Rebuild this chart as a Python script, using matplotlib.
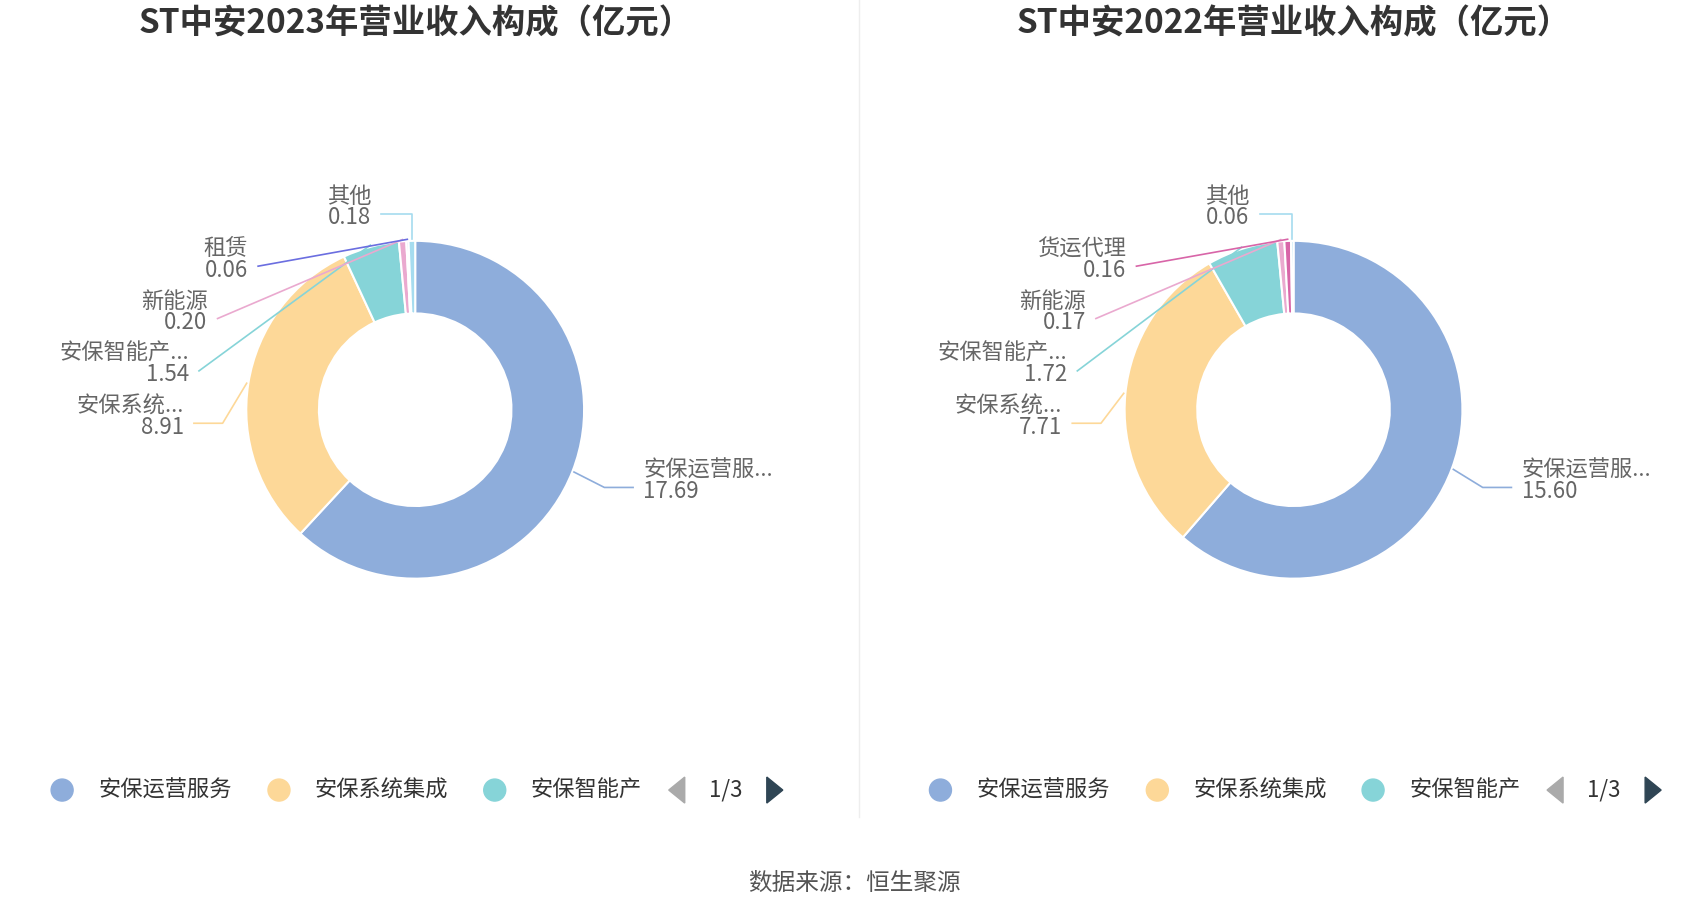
import matplotlib
matplotlib.use("Agg")
import matplotlib.pyplot as plt
import numpy as np
from matplotlib.patches import Polygon, Ellipse
from matplotlib.lines import Line2D

plt.rcParams['font.family'] = ['Noto Sans CJK SC', 'DejaVu Sans']

titles = ["ST中安2023年营业收入构成（亿元）", "ST中安2022年营业收入构成（亿元）"]
cats_2023 = ["安保运营服务", "安保系统集成", "安保智能产品", "新能源", "租赁", "其他"]
vals_2023 = [17.69, 8.91, 1.54, 0.20, 0.06, 0.18]
cats_2022 = ["安保运营服务", "安保系统集成", "安保智能产品", "新能源", "货运代理", "其他"]
vals_2022 = [15.60, 7.71, 1.72, 0.17, 0.16, 0.06]
short_2023 = ["安保运营服...", "安保系统...", "安保智能产...", "新能源", "租赁", "其他"]
short_2022 = ["安保运营服...", "安保系统...", "安保智能产...", "新能源", "货运代理", "其他"]
legend_items = ["安保运营服务", "安保系统集成", "安保智能产"]
colors_2023 = ["#8eaddb", "#fdd898", "#86d4d8", "#eaa9cf", "#6b6ee0", "#a6dcef"]
colors_2022 = ["#8eaddb", "#fdd898", "#86d4d8", "#eaa9cf", "#d865a8", "#a6dcef"]

# label layout (data units, radius=1): text anchor x, y
lab_xy = [(1.35, -0.42), (-1.37, -0.04), (-1.34, 0.27), (-1.23, 0.58), (-0.99, 0.89), (-0.26, 1.20)]

W, H = 1700, 918
fig = plt.figure(figsize=(W/100, H/100), dpi=100)
s = 1700/1560
R = 155*s

def draw(cx, vals, labels, colors, title, cats):
    cxp, cyp = cx*s, H - 376*s
    ax = fig.add_axes([(cxp-2*R)/W, (cyp-2*R)/H, 4*R/W, 4*R/H])
    wedges, _ = ax.pie(vals, colors=colors, startangle=90, counterclock=False, radius=1,
                       wedgeprops=dict(width=0.43, edgecolor='white', linewidth=1.5))
    ax.set_xlim(-2, 2); ax.set_ylim(-2, 2); ax.axis('off')
    for i, w in enumerate(wedges):
        ang = np.deg2rad((w.theta1 + w.theta2)/2)
        px, py = np.cos(ang)*1.01, np.sin(ang)*1.01
        tx, ty = lab_xy[i]
        right = tx > 0
        if i == 5:
            xs = [tx+0.06, px, px]; ys = [ty-0.04, ty-0.04, py]
        elif i in (0, 1):
            ex = tx-0.06 if right else tx+0.06
            ex2 = ex-0.17 if right else ex+0.17
            xs = [ex, ex2, px]; ys = [ty-0.04, ty-0.04, py]
        else:
            xs = [tx+0.06, px]; ys = [ty-0.04, py]
        ax.plot(xs, ys, color=colors[i], lw=1.2, clip_on=False)
        ha = 'left' if right else 'right'
        ax.text(tx, ty, f"{labels[i]}\n{vals[i]:.2f}", ha=ha, va='center', fontsize=16,
                color='#666666', linespacing=0.9)
    fig.text(cxp/W, 1-22*s/H, title, ha='center', va='center', fontsize=24,
             fontweight='bold', color='#333333')
    off = cx - 381
    ly = 1 - 725*s/H
    for j, (x0, t) in enumerate(zip([57, 256, 454], legend_items)):
        fig.patches.append(Ellipse(((x0+off)*s/W, ly), 22/W, 22/H,
                                   transform=fig.transFigure, color=colors[j]))
        fig.text((x0+off+33)*s/W, ly, t, ha='left', va='center', fontsize=16, color='#333333')
    lx, rx = (621+off)*s, (711+off)*s
    fig.patches.append(Polygon([[(lx+8)/W, ly+13/H], [(lx+8)/W, ly-13/H], [(lx-8)/W, ly]],
                               closed=True, transform=fig.transFigure, color='#aaaaaa'))
    fig.patches.append(Polygon([[(rx-8)/W, ly+13/H], [(rx-8)/W, ly-13/H], [(rx+8)/W, ly]],
                               closed=True, transform=fig.transFigure, color='#2f4554'))
    fig.text((666+off)*s/W, ly, "1/3", ha='center', va='center', fontsize=16, color='#333333')

draw(381, vals_2023, short_2023, colors_2023, titles[0], cats_2023)
draw(1187, vals_2022, short_2022, colors_2022, titles[1], cats_2022)
fig.add_artist(Line2D([788*s/W]*2, [1, 1-750*s/H], color='#eeeeee', lw=1))
fig.text(784*s/W, 1-811*s/H, "数据来源：恒生聚源", ha='center', va='center', fontsize=17, color='#555555')
fig.savefig("out.png", dpi=100, facecolor='white')
